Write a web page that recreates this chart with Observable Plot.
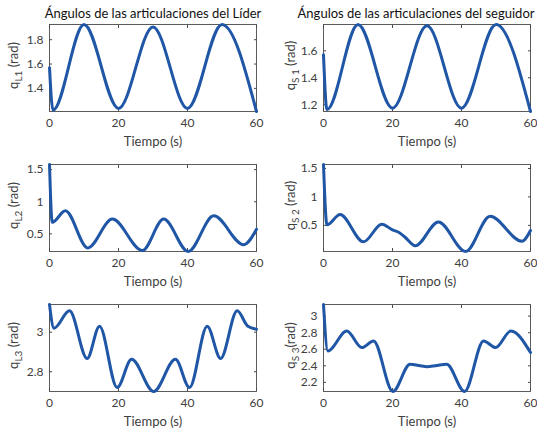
<!DOCTYPE html>
<html><head><meta charset="utf-8">
<script src="https://cdn.jsdelivr.net/npm/d3@7"></script>
<script src="https://cdn.jsdelivr.net/npm/@observablehq/plot@0.6"></script>
<style>
html,body{margin:0;padding:0;background:#fff;overflow:hidden}
#fig{position:relative;width:537px;height:434px;overflow:hidden;background:#fff}
#fig svg{position:absolute;overflow:visible}
</style></head><body><div id="fig"></div>
<script>
// ---- data ----
const xTicks = [0, 20, 40, 60];

const tL1 = [0, 1, 10, 20, 30, 40, 50, 60];
const vL1 = [1.57, 1.22, 1.925, 1.235, 1.905, 1.235, 1.925, 1.21];
const ticksL1 = [1.4, 1.6, 1.8];

const tS1 = [0, 1, 10, 20, 30, 40, 50, 60];
const vS1 = [1.57, 1.165, 1.795, 1.175, 1.785, 1.175, 1.795, 1.15];
const ticksS1 = [1.2, 1.4, 1.6];

const tL2 = [0, 0.8, 4.6, 11.1, 18.2, 26.9, 33.1, 40.2, 47.6, 56.3, 60];
const vL2 = [1.58, 0.68, 0.86, 0.28, 0.73, 0.24, 0.73, 0.225, 0.78, 0.33, 0.57];
const ticksL2 = [0.5, 1, 1.5];

const tS2 = [0, 1.0, 4.8, 11.6, 16.9, 20, 22, 23.5, 26.6, 33.3, 41.2, 48.3, 57.5, 60];
const vS2 = [1.57, 0.51, 0.69, 0.21, 0.52, 0.42, 0.37, 0.30, 0.14, 0.56, 0.04, 0.66, 0.22, 0.41];
const ticksS2 = [0.5, 1, 1.5];

const tL3 = [0, 1.3, 5.8, 10.9, 14.5, 19.6, 23.8, 30.2, 36.5, 40.6, 45.7, 49.6, 54.4, 57.5, 60];
const vL3 = [3.14, 3.02, 3.108, 2.867, 3.03, 2.72, 2.863, 2.70, 2.863, 2.72, 3.03, 2.867, 3.108, 3.03, 3.015];
const ticksL3 = [2.8, 3];

const tS3 = [0, 1.25, 6.75, 11.1, 14.5, 20.1, 25.1, 28, 30, 32.4, 35.7, 40.9, 46.4, 49.9, 54.3, 60];
const vS3 = [3.14, 2.58, 2.82, 2.62, 2.70, 2.09, 2.42, 2.40, 2.39, 2.40, 2.42, 2.09, 2.70, 2.62, 2.82, 2.56];
const ticksS3 = [2.2, 2.4, 2.6, 2.8, 3];

const titles = ["Ángulos de las articulaciones del Líder", "Ángulos de las articulaciones del seguidor"];
const xLabel = "Tiempo (s)";

// ---- layout ----
const panels = [
  {t: tL1, v: vL1, ticks: ticksL1, sym: "L", sub: "1", sp: " ", col: 0, row: 0},
  {t: tS1, v: vS1, ticks: ticksS1, sym: "S", sub: "1", sp: " ", col: 1, row: 0},
  {t: tL2, v: vL2, ticks: ticksL2, sym: "L", sub: "2", sp: " ", col: 0, row: 1},
  {t: tS2, v: vS2, ticks: ticksS2, sym: "S", sub: "2", sp: " ", col: 1, row: 1},
  {t: tL3, v: vL3, ticks: ticksL3, sym: "L", sub: "3", sp: " ", col: 0, row: 2},
  {t: tS3, v: vS3, ticks: ticksS3, sym: "S", sub: "3", sp: "", col: 1, row: 2}
];
const colLeft = [0, 274];
const rowTop = [0, 140, 280];
const mL = 49, mT = 24, pw = 207, ph = 87, mR = 10, mB = 40;
const FONT = "Lato, 'Open Sans', sans-serif";
const LINE = "#1f56a6";
const AX = "#4a4a4a";
const fmt = d => `${d}`;

const fig = document.getElementById("fig");
for (const p of panels) {
  const data = p.t.map((t, i) => ({t, v: p.v[i]}));
  const marks = [
    Plot.frame({stroke: AX, strokeWidth: 0.9}),
    Plot.axisY(p.ticks, {anchor: "left", tickSize: -3, tickPadding: 9, tickFormat: fmt, label: null, stroke: AX}),
    Plot.axisY(p.ticks, {anchor: "right", tickSize: -3, tickFormat: () => "", label: null, stroke: AX}),
    Plot.axisX(xTicks, {anchor: "top", tickSize: -3, tickFormat: () => "", label: null, stroke: AX}),
    Plot.axisX(xTicks, {anchor: "bottom", tickSize: -3, tickPadding: 10, tickFormat: fmt, label: null, stroke: AX}),
    Plot.text([xLabel], {frameAnchor: "bottom", dy: 30, lineAnchor: "middle", fontSize: 13, fill: "#404040"}),
    Plot.line(data, {x: "t", y: "v", stroke: LINE, strokeWidth: 3, curve: "monotone-x"})
  ];
  if (p.row === 0) {
    marks.push(p.col === 0
      ? Plot.text([titles[0]], {frameAnchor: "top", dy: -7, lineAnchor: "bottom", fontSize: 13, fill: "#111"})
      : Plot.text([titles[1]], {frameAnchor: "top-right", textAnchor: "end", dx: 4, dy: -7, lineAnchor: "bottom", fontSize: 13, fill: "#111"}));
  }
  const svg = Plot.plot({
    width: mL + pw + mR, height: mT + ph + mB,
    marginLeft: mL, marginTop: mT, marginRight: mR, marginBottom: mB,
    x: {domain: [0, 60]},
    y: {domain: d3.extent(p.v)},
    style: {fontFamily: FONT, fontSize: "12px", color: "#404040", background: "transparent"},
    marks
  });
  svg.style.left = colLeft[p.col] + "px";
  svg.style.top = rowTop[p.row] + "px";
  // y label with subscript
  const lx = p.col === 0 ? 18 : 21;
  const txt = d3.select(svg).append("text")
    .attr("transform", `translate(${lx},${mT + ph / 2 - 2}) rotate(-90)`)
    .attr("text-anchor", "middle")
    .attr("font-family", FONT).attr("font-size", 13).attr("fill", "#404040");
  txt.append("tspan").text("q");
  txt.append("tspan").attr("font-size", 10).attr("dy", 3.5).text(p.sym + (p.sym === "S" ? " " : "") + p.sub);
  txt.append("tspan").attr("dy", -3.5).text(p.sp + "(rad)");
  fig.appendChild(svg);
}
</script></body></html>
